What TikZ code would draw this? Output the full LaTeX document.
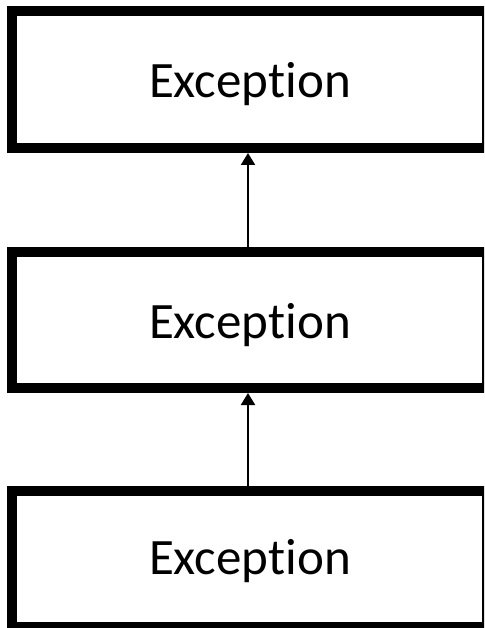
\documentclass[tikz,border=0pt]{standalone}
\usepackage{fontspec}
\setmainfont[Ligatures={NoCommon}]{Carlito}
\usetikzlibrary{arrows.meta}
\tikzset{
  box/.style={draw=black, line width=10pt, fill=white, rectangle, inner sep=0pt,
    minimum width=474.75pt, minimum height=136.5pt},
  lbl/.style={anchor=base, inner sep=0pt, font=\fontsize{51}{60}\selectfont},
  arr/.style={line width=2pt, -{Triangle[length=12pt,width=14pt]}}
}
\begin{document}
\begin{tikzpicture}[x=1pt,y=-1pt]
\useasboundingbox (0,0) rectangle (484,628);
\clip (0,0) rectangle (484,628);
\fill[white] (0,0) rectangle (484,628);
\node[box] (b1) at (249.6,79.75) {};
\node[box, minimum height=136pt] (b2) at (249.6,320) {};
\node[box, minimum height=136pt] (b3) at (249.6,559) {};
\node[lbl] (t1) at (250,98) {Exception};
\node[lbl] (t2) at (250,338) {Exception};
\node[lbl] (t3) at (250,574) {Exception};
\coordinate (ax) at (248,0);
\draw[arr] (b2.north -| ax) -- (b1.south -| ax);
\draw[arr] (b3.north -| ax) -- (b2.south -| ax);
\end{tikzpicture}
\end{document}
